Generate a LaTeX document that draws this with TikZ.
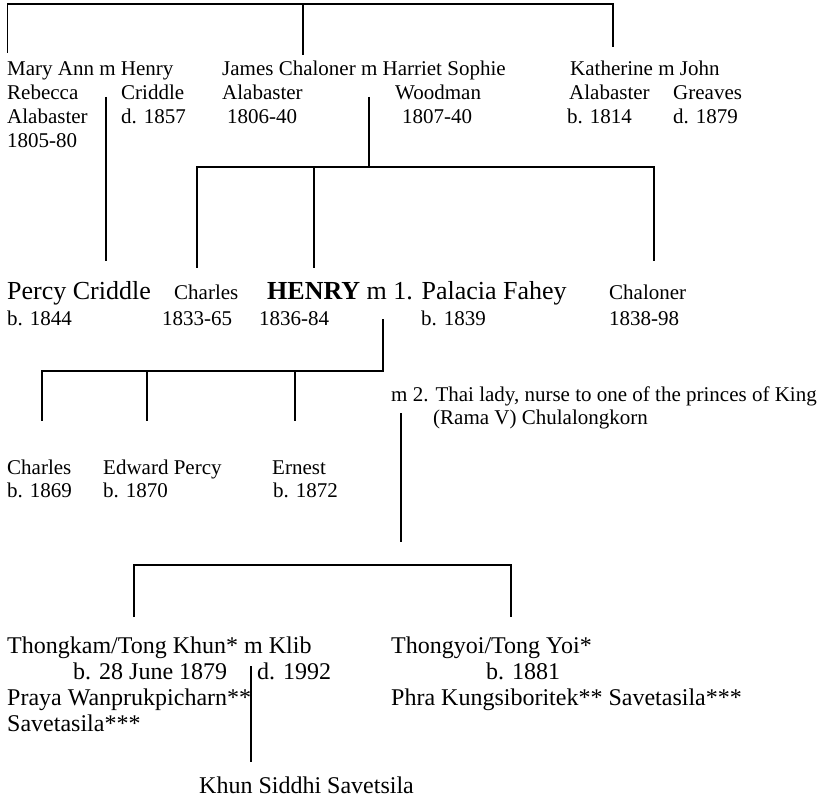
\documentclass[tikz,border=0pt]{standalone}
\usepackage{fontspec}
\setmainfont{Liberation Serif}
\begin{document}
\begin{tikzpicture}[x=1pt,y=-1pt]
\tikzset{
  txt/.style={anchor=base west, inner sep=0pt, font=\fontsize{21}{24}\selectfont},
  big/.style={txt, font=\fontsize{26}{30}\selectfont},
  low/.style={txt, font=\fontsize{24}{27}\selectfont},
  link/.style={line width=1.5pt, line join=miter},
}
\useasboundingbox (0,0) rectangle (829,799);

% ---------- generation 1 ----------
\node[txt] (ma1) at (7,76) {Mary Ann m Henry};
\node[txt] (ma2) at (7,100) {Rebecca};
\node[txt] (ma3) at (7,124) {Alabaster};
\node[txt] (ma4) at (7,148) {1805-80};
\node[txt] (hc2) at (121,100) {Criddle};
\node[txt] (hc3) at (121,124) {d. 1857};

\node[txt] (jc1) at (222,76) {James Chaloner m Harriet Sophie};
\node[txt] (jc2) at (222,100) {Alabaster};
\node[txt] (jc3) at (227,124) {1806-40};
\node[txt] (hs2) at (395,100) {Woodman};
\node[txt] (hs3) at (402,124) {1807-40};

\node[txt] (ka1) at (570,76) {Katherine m John};
\node[txt] (ka2) at (569,100) {Alabaster};
\node[txt] (ka3) at (567,124) {b. 1814};
\node[txt] (jg2) at (673,100) {Greaves};
\node[txt] (jg3) at (673,124) {d. 1879};

% ---------- generation 2 ----------
\node[big] (pc1) at (7,300) {Percy Criddle};
\node[txt] (pc2) at (7,325) {b. 1844};
\node[txt] (ch1) at (174,300) {Charles};
\node[txt] (ch2) at (162,325) {1833-65};
\node[big] (he1) at (267,300) {\textbf{HENRY} m 1. Palacia Fahey};
\node[txt] (he2) at (259,325) {1836-84};
\node[txt] (pf2) at (421,325) {b. 1839};
\node[txt] (cl1) at (609,300) {Chaloner};
\node[txt] (cl2) at (609,325) {1838-98};

\node[txt] (m2a) at (391,401) {m 2. Thai lady, nurse to one of the princes of King};
\node[txt] (m2b) at (433,424) {(Rama V) Chulalongkorn};

% ---------- generation 3 ----------
\node[txt] (c1) at (7,474) {Charles};
\node[txt] (c2) at (7,497) {b. 1869};
\node[txt] (ep1) at (103,474) {Edward Percy};
\node[txt] (ep2) at (103,497) {b. 1870};
\node[txt] (er1) at (272,474) {Ernest};
\node[txt] (er2) at (273,497) {b. 1872};

\node[low] (tk1) at (7,653) {Thongkam/Tong Khun* m Klib};
\node[low] (tk2) at (73,679) {b. 28 June 1879};
\node[low] (kl2) at (257,679) {d. 1992};
\node[low] (tk3) at (7,705) {Praya Wanprukpicharn**};
\node[low] (tk4) at (7,731) {Savetasila***};
\node[low] (ks) at (199,793) {Khun Siddhi Savetsila};

\node[low] (ty1) at (391,653) {Thongyoi/Tong Yoi*};
\node[low] (ty2) at (486,679) {b. 1881};
\node[low] (ty3) at (391,705) {Phra Kungsiboritek** Savetasila***};

% ---------- connector points ----------
\coordinate (tL) at (7.5,4);   \coordinate (tLe) at (7.5,53);
\coordinate (tM) at (303,4);   \coordinate (tMe) at (303,55);
\coordinate (tR) at (613,4);   \coordinate (tRe) at (613,47);

\coordinate (mhS) at (106,97); \coordinate (mhE) at (106,261);

\coordinate (jhS) at (369,97); \coordinate (jhE) at (369,167);
\coordinate (sL) at (197,167); \coordinate (sLe) at (197,268);
\coordinate (sM) at (314,167); \coordinate (sMe) at (314,268);
\coordinate (sR) at (654,167); \coordinate (sRe) at (654,261);

\coordinate (hpS) at (383,319); \coordinate (hpE) at (383,371);
\coordinate (cA) at (42,371);  \coordinate (cAe) at (42,421);
\coordinate (cB) at (147,371); \coordinate (cBe) at (147,421);
\coordinate (cC) at (295,371); \coordinate (cCe) at (295,421);

\coordinate (m2S) at (401,413); \coordinate (m2E) at (401,542);
\coordinate (bL) at (134,565); \coordinate (bLe) at (134,617);
\coordinate (bR) at (511,565); \coordinate (bRe) at (511,617);

\coordinate (tkS) at (251,666); \coordinate (tkE) at (251,762);

% ---------- connectors ----------
\draw[link] (tLe) -- (tL) -- (tR) -- (tRe);
\draw[link] (tM) -- (tMe);
\draw[link] (mhS) -- (mhE);
\draw[link] (jhS) -- (jhE);
\draw[link] (sLe) -- (sL) -- (sR) -- (sRe);
\draw[link] (sM) -- (sMe);
\draw[link] (hpS) -- (hpE) -- (cA) -- (cAe);
\draw[link] (cB) -- (cBe);
\draw[link] (cC) -- (cCe);
\draw[link] (m2S) -- (m2E);
\draw[link] (bLe) -- (bL) -- (bR) -- (bRe);
\draw[link] (tkS) -- (tkE);
\end{tikzpicture}
\end{document}
